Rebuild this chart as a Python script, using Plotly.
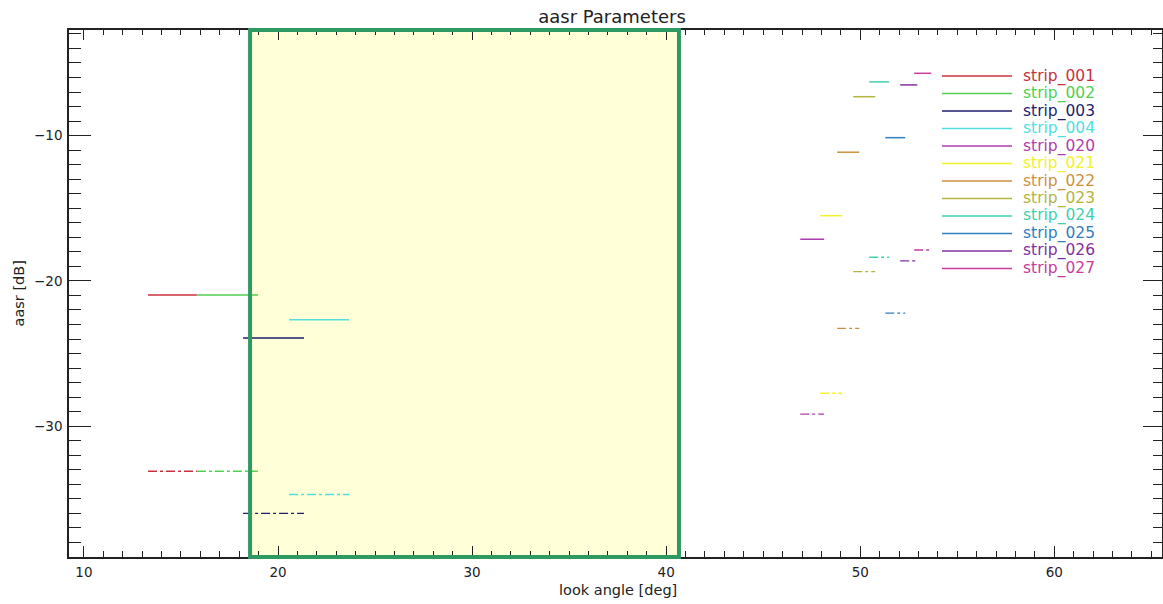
import plotly.graph_objects as go

# ---------------- data ----------------
strips = ["strip_001", "strip_002", "strip_003", "strip_004", "strip_020", "strip_021",
          "strip_022", "strip_023", "strip_024", "strip_025", "strip_026", "strip_027"]
colors = ["#c8323c", "#50d050", "#1e1e6e", "#50dede", "#b03cb0", "#f2f22a",
          "#cc9040", "#b4b440", "#40d0b0", "#3080c0", "#8030a0", "#c83c9c"]
x_start = [13.3, 15.82, 18.2, 20.57, 46.91, 47.94, 48.81, 49.64, 50.46, 51.29, 52.06, 52.78]
x_end = [15.82, 18.97, 21.34, 23.66, 48.14, 49.07, 49.95, 50.77, 51.49, 52.32, 52.94, 53.66]
aasr_solid = [-20.96, -20.96, -23.92, -22.68, -17.13, -15.51, -11.14, -7.32, -6.30, -10.14, -6.51, -5.71]
aasr_dashdot = [-33.1, -33.1, -36.0, -34.7, -29.17, -27.73, -23.26, -19.36, -18.37, -22.22, -18.62, -17.87]

highlight_x = [18.56, 40.66]
x_range = [9.23, 65.55]
y_range = [-39.0, -2.73]

FONT = "DejaVu Sans"
AX = "#222222"

fig = go.Figure()

for name, c, x0, x1, vs, vd in zip(strips, colors, x_start, x_end, aasr_solid, aasr_dashdot):
    fig.add_trace(go.Scatter(x=[x0, x1], y=[vs, vs], mode="lines", name=name,
                             line=dict(color=c, width=1.5), showlegend=False))
    fig.add_trace(go.Scatter(x=[x0, x1], y=[vd, vd], mode="lines", name=name + " (dash-dot)",
                             line=dict(color=c, width=1.3, dash="dashdot"), showlegend=False))

# dummy trace for the mirrored (top/right) axes
fig.add_trace(go.Scatter(x=[], y=[], xaxis="x2", yaxis="y2", showlegend=False))

# highlighted region: fill below, border above
fig.add_shape(type="rect", xref="x", yref="paper", x0=highlight_x[0], x1=highlight_x[1],
              y0=0, y1=1, fillcolor="#ffffd8", line=dict(width=0), layer="below")
fig.add_shape(type="rect", xref="x", yref="paper", x0=highlight_x[0], x1=highlight_x[1],
              y0=0, y1=1, fillcolor="rgba(0,0,0,0)", line=dict(color="#2e9a62", width=4),
              layer="above")

# manual IDL-style legend
plot_l, plot_r, plot_t, plot_b = 69, 1162, 30, 557
pw, ph = plot_r - plot_l, plot_b - plot_t
def px_x(p):
    return (p - plot_l) / pw
def px_y(p):
    return (plot_b - p) / ph
for i, (name, c) in enumerate(zip(strips, colors)):
    yy = px_y(76 + 17.5 * i)
    fig.add_shape(type="line", xref="paper", yref="paper", x0=px_x(942), x1=px_x(1012),
                  y0=yy, y1=yy, line=dict(color=c, width=1.5))
    fig.add_annotation(xref="paper", yref="paper", x=px_x(1021), y=yy, text=name,
                       showarrow=False, xanchor="left", yanchor="middle",
                       font=dict(family=FONT, size=15.5, color=c))

# axis titles
fig.add_annotation(xref="paper", yref="paper", x=px_x(618), y=0, yshift=-33,
                   text="look angle [deg]", showarrow=False, xanchor="center", yanchor="middle",
                   font=dict(family=FONT, size=14.5, color=AX))
fig.add_annotation(xref="paper", yref="paper", x=px_x(18), y=0.5, textangle=-90,
                   text="aasr [dB]", showarrow=False, xanchor="center", yanchor="middle",
                   font=dict(family=FONT, size=14.5, color=AX))

common = dict(showgrid=False, zeroline=False, showline=True, linecolor=AX, linewidth=1.5,
              ticks="inside", tickcolor=AX, tickwidth=1.3, automargin=False)

fig.update_layout(
    width=1163, height=604, autosize=False,
    margin=dict(l=plot_l, r=1163 - plot_r, t=plot_t, b=604 - plot_b, pad=0),
    paper_bgcolor="white", plot_bgcolor="white",
    title=dict(text="aasr Parameters", x=px_x(612), xref="paper", xanchor="center",
               y=1 - 17 / 604, yref="container", yanchor="middle",
               font=dict(family=FONT, size=18, color=AX)),
    xaxis=dict(range=x_range, tick0=0, dtick=10, ticklen=11,
               minor=dict(dtick=1, tick0=0, ticklen=6, ticks="inside", tickcolor=AX),
               tickfont=dict(family=FONT, size=13.5, color=AX), ticklabelstandoff=2, **common),
    yaxis=dict(range=y_range, tick0=0, dtick=10, ticklen=22,
               minor=dict(dtick=1, tick0=0, ticklen=12, ticks="inside", tickcolor=AX),
               tickfont=dict(family=FONT, size=13.5, color=AX), ticklabelstandoff=2, **common),
    xaxis2=dict(range=x_range, overlaying="x", side="top", anchor="y", tick0=0, dtick=10,
                ticklen=10, showticklabels=False,
                minor=dict(dtick=1, tick0=0, ticklen=5, ticks="inside", tickcolor=AX), **common),
    yaxis2=dict(range=y_range, overlaying="y", side="right", anchor="x", tick0=0, dtick=10,
                ticklen=19, showticklabels=False,
                minor=dict(dtick=1, tick0=0, ticklen=9, ticks="inside", tickcolor=AX), **common),
)

fig.write_html("out.html", config={"displayModeBar": False},
               post_script="document.body.style.margin='0';document.body.style.overflow='hidden';")
